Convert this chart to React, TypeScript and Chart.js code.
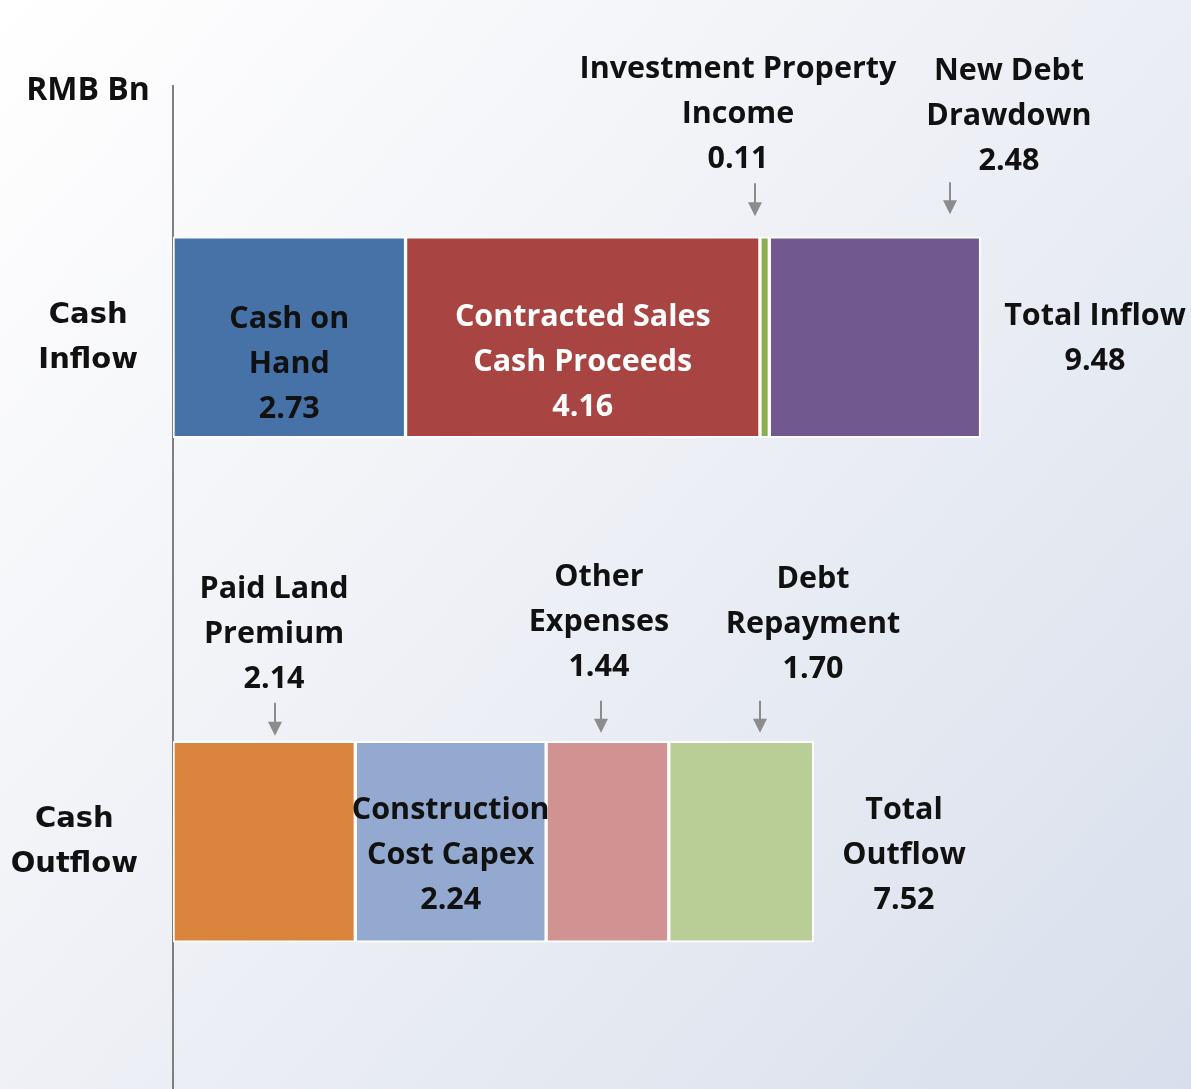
import React, { useEffect, useRef } from "react";
import { Chart, registerables } from "chart.js";

Chart.register(...registerables);

// ---- data ----
const categories = ["Cash Inflow", "Cash Outflow"];
const categoryLabels = [["Cash", "Inflow"], ["Cash", "Outflow"]];
const inflowNames = ["Cash on Hand", "Contracted Sales Cash Proceeds", "Investment Property Income", "New Debt Drawdown"];
const inflowValues = [2.73, 4.16, 0.11, 2.48];
const outflowNames = ["Paid Land Premium", "Construction Cost Capex", "Other Expenses", "Debt Repayment"];
const outflowValues = [2.14, 2.24, 1.44, 1.7];
const unitLabel = "RMB Bn";
const totalLabels = [["Total Inflow"], ["Total", "Outflow"]];

// ---- styling ----
const inflowColors = ["#4672A8", "#A84542", "#8AB04E", "#71588F"];
const outflowColors = ["#DB843D", "#93A9CF", "#D19392", "#B9CD96"];
const FONT = "'Open Sans', sans-serif";
const CAT_FONT = "'DejaVu Sans', sans-serif";
const LINE_H = 45;
const DY = 2;

// inside labels: [row, idx, lines, color, firstLineOffsetY]
const insideLabels: [number, number, string[], string, number][] = [
  [0, 0, ["Cash on", "Hand"], "#111111", -20],
  [0, 1, ["Contracted Sales", "Cash Proceeds"], "#FFFFFF", -22],
  [1, 1, ["Construction", "Cost Capex"], "#111111", -33],
];
// above labels: [row, idx, lines, textX(value), firstLineOffsetY(px from bar center), arrowX(value), arrowTop, arrowBottom]
const aboveLabels: [number, number, string[], number, number, number, number, number][] = [
  [0, 2, ["Investment Property", "Income"], 6.632, -270, 6.832, -154, -121],
  [0, 3, ["New Debt", "Drawdown"], 9.813, -268, 9.121, -155, -123],
  [1, 0, ["Paid Land", "Premium"], 1.186, -254, 1.197, -139, -106],
  [1, 2, ["Other", "Expenses"], 5.0, -266, 5.024, -141, -109],
  [1, 3, ["Debt", "Repayment"], 7.513, -264, 6.886, -141, -109],
];
const totalX = [10.823, 8.581];
const totalY = [-23, -33];

export default function App() {
  const ref = useRef<HTMLCanvasElement | null>(null);

  useEffect(() => {
    const canvas = ref.current!;
    const rows = [inflowValues, outflowValues];

    const datasets = [
      ...inflowNames.map((n, i) => ({
        label: n,
        data: [inflowValues[i], null],
        backgroundColor: inflowColors[i],
      })),
      ...outflowNames.map((n, i) => ({
        label: n,
        data: [null, outflowValues[i]],
        backgroundColor: outflowColors[i],
      })),
    ].map((d) => ({
      ...d,
      borderColor: "#FFFFFF",
      borderWidth: 2,
      borderSkipped: false as const,
      barThickness: 201,
      stack: "s",
    }));

    const bg = {
      id: "bg",
      beforeDraw(chart: any) {
        const { ctx, width, height } = chart;
        const g = ctx.createLinearGradient(0, 0, width, height);
        g.addColorStop(0, "#FFFFFF");
        g.addColorStop(0.35, "#F3F4F8");
        g.addColorStop(1, "#D8DFEC");
        ctx.save();
        ctx.fillStyle = g;
        ctx.fillRect(0, 0, width, height);
        ctx.restore();
      },
      beforeDatasetsDraw(chart: any) {
        const { ctx, chartArea } = chart;
        ctx.save();
        ctx.strokeStyle = "#7F7F7F";
        ctx.lineWidth = 2;
        ctx.beginPath();
        ctx.moveTo(chartArea.left, chartArea.top);
        ctx.lineTo(chartArea.left, chart.height);
        ctx.stroke();
        ctx.restore();
      },
    };

    const drawLines = (ctx: CanvasRenderingContext2D, lines: string[], x: number, y0: number) => {
      lines.forEach((l, i) => ctx.fillText(l, x, y0 + DY + i * LINE_H));
    };

    const labels = {
      id: "labels",
      afterDatasetsDraw(chart: any) {
        const { ctx } = chart;
        const xs = chart.scales.x;
        const ys = chart.scales.y;
        ctx.save();
        ctx.textAlign = "center";
        ctx.textBaseline = "middle";

        // unit
        ctx.font = `bold 32px ${FONT}`;
        ctx.fillStyle = "#111111";
        ctx.fillText(unitLabel, 88, 91);

        ctx.font = `bold 30.5px ${FONT}`;
        const segStart = (row: number, idx: number) =>
          rows[row].slice(0, idx).reduce((a, b) => a + b, 0);

        // inside labels
        insideLabels.forEach(([row, idx, lines, color, oy]) => {
          const v = rows[row][idx];
          const cx = xs.getPixelForValue(segStart(row, idx) + v / 2);
          const cy = ys.getPixelForValue(row);
          ctx.fillStyle = color;
          drawLines(ctx, [...lines, v.toFixed(2)], cx, cy + oy);
        });

        // above labels with arrows
        aboveLabels.forEach(([row, idx, lines, tx, oy, ax, at, ab]) => {
          const v = rows[row][idx];
          const cy = ys.getPixelForValue(row);
          ctx.fillStyle = "#111111";
          drawLines(ctx, [...lines, v.toFixed(2)], xs.getPixelForValue(tx), cy + oy);
          const px = Math.round(xs.getPixelForValue(ax));
          ctx.strokeStyle = "#8C8C8C";
          ctx.fillStyle = "#8C8C8C";
          ctx.lineWidth = 2;
          ctx.beginPath();
          ctx.moveTo(px, cy + at);
          ctx.lineTo(px, cy + ab - 12);
          ctx.stroke();
          ctx.beginPath();
          ctx.moveTo(px - 7, cy + ab - 14);
          ctx.lineTo(px + 7, cy + ab - 14);
          ctx.lineTo(px, cy + ab);
          ctx.closePath();
          ctx.fill();
        });

        // totals
        rows.forEach((r, row) => {
          const total = r.reduce((a, b) => a + b, 0);
          const cy = ys.getPixelForValue(row);
          ctx.fillStyle = "#111111";
          drawLines(ctx, [...totalLabels[row], total.toFixed(2)], xs.getPixelForValue(totalX[row]), cy + totalY[row]);
        });

        // category labels (right edge at 138)
        ctx.font = `bold 29px ${CAT_FONT}`;
        categoryLabels.forEach((lines, row) => {
          const cy = ys.getPixelForValue(row);
          const w = Math.max(...lines.map((l) => ctx.measureText(l).width));
          const cx = 138 - w / 2;
          ctx.fillStyle = "#111111";
          drawLines(ctx, lines, cx, cy - 24);
        });
        ctx.restore();
      },
    };

    const chart = new Chart(canvas, {
      type: "bar",
      data: { labels: categories, datasets },
      options: {
        indexAxis: "y",
        responsive: false,
        animation: false,
        devicePixelRatio: 1,
        layout: { padding: { left: 173, right: 0, top: 85, bottom: 0 } },
        plugins: { legend: { display: false }, tooltip: { enabled: false } },
        scales: {
          x: { display: false, stacked: true, min: 0, max: 11.95 },
          y: { display: false, stacked: true },
        },
      },
      plugins: [bg, labels],
    });
    return () => chart.destroy();
  }, []);

  return (
    <div style={{ position: "fixed", left: 0, top: 0, width: 1191, height: 1094 }}>
      <canvas ref={ref} width={1191} height={1094} style={{ display: "block" }} />
    </div>
  );
}
